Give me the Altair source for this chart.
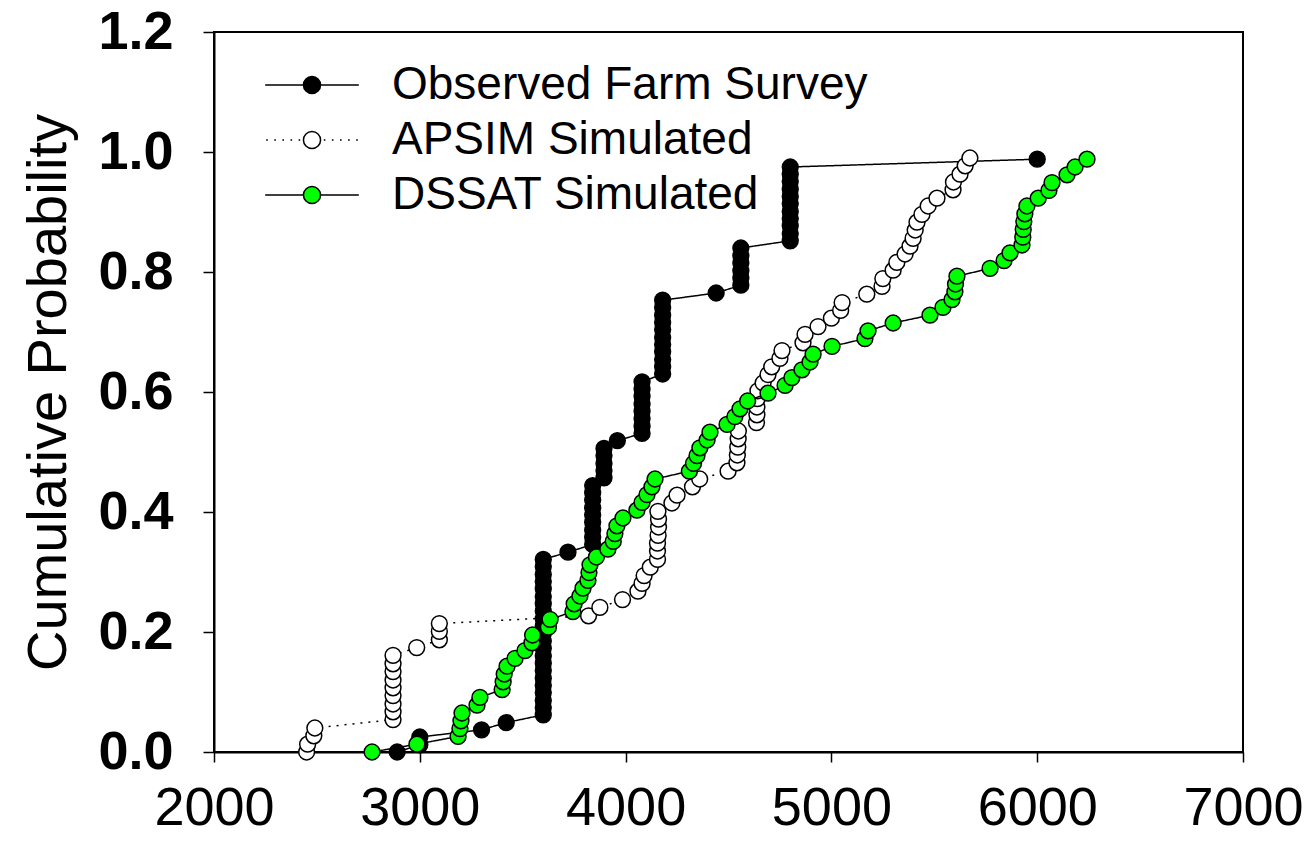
import altair as alt
import pandas as pd

series_names = ["Observed Farm Survey", "APSIM Simulated", "DSSAT Simulated"]
fill_colors = ["black", "white", "#00ff00"]
edge_colors = ["black", "black", "black"]

obs_yield = [2890, 3000, 3000, 3300, 3420,
             3600, 3600, 3600, 3600, 3600, 3600, 3600, 3600, 3600, 3600, 3600,
             3600, 3600, 3600, 3600, 3600, 3600, 3600, 3600, 3600, 3600, 3600,
             3720,
             3840, 3840, 3840, 3840, 3840, 3840, 3840, 3840, 3840,
             3895, 3895, 3895, 3895, 3895,
             3960,
             4080, 4080, 4080, 4080, 4080, 4080, 4080, 4080,
             4180, 4180, 4180, 4180, 4180, 4180, 4180, 4180, 4180, 4180, 4180,
             4440,
             4560, 4560, 4560, 4560, 4560, 4560,
             4800, 4800, 4800, 4800, 4800, 4800, 4800, 4800, 4800, 4800, 4800,
             6000]
obs_prob = [0.000, 0.012, 0.025, 0.037, 0.049, 0.062, 0.074, 0.086, 0.099, 0.111,
            0.123, 0.136, 0.148, 0.160, 0.173, 0.185, 0.198, 0.210, 0.222, 0.235,
            0.247, 0.259, 0.272, 0.284, 0.296, 0.309, 0.321, 0.333, 0.346, 0.358,
            0.370, 0.383, 0.395, 0.407, 0.420, 0.432, 0.444, 0.457, 0.469, 0.481,
            0.494, 0.506, 0.519, 0.531, 0.543, 0.556, 0.568, 0.580, 0.593, 0.605,
            0.617, 0.630, 0.642, 0.654, 0.667, 0.679, 0.691, 0.704, 0.716, 0.728,
            0.741, 0.753, 0.765, 0.778, 0.790, 0.802, 0.815, 0.827, 0.840, 0.852,
            0.864, 0.877, 0.889, 0.901, 0.914, 0.926, 0.938, 0.951, 0.963, 0.975,
            0.988]

apsim_yield = [2450, 2455, 2485, 2490,
               2870, 2870, 2870, 2870, 2870, 2870, 2870, 2870, 2870,
               2985,
               3095, 3095, 3095,
               3820, 3875, 3985, 4060, 4080, 4090, 4120,
               4155, 4155, 4155, 4158, 4160, 4160, 4157,
               4225, 4250, 4325, 4360,
               4498,
               4541, 4543, 4545, 4547, 4548,
               4636, 4638, 4638, 4640, 4643, 4668, 4692, 4710, 4750, 4760,
               4862, 4872, 4935, 5000, 5045, 5052, 5172, 5246, 5250, 5300,
               5318, 5358, 5382, 5397, 5407, 5416, 5440, 5470, 5513, 5591,
               5593, 5625, 5650, 5673]
apsim_prob = [0.000, 0.013, 0.027, 0.040, 0.054, 0.067, 0.080, 0.094, 0.107, 0.120,
              0.134, 0.147, 0.161, 0.174, 0.187, 0.201, 0.214, 0.227, 0.241, 0.254,
              0.268, 0.281, 0.294, 0.308, 0.321, 0.335, 0.348, 0.361, 0.375, 0.388,
              0.401, 0.415, 0.428, 0.442, 0.455, 0.468, 0.482, 0.495, 0.508, 0.522,
              0.535, 0.549, 0.562, 0.575, 0.589, 0.602, 0.615, 0.629, 0.642, 0.656,
              0.669, 0.682, 0.696, 0.709, 0.723, 0.736, 0.749, 0.763, 0.776, 0.789,
              0.803, 0.816, 0.830, 0.843, 0.856, 0.870, 0.883, 0.896, 0.910, 0.923,
              0.937, 0.950, 0.963, 0.977, 0.990]

dssat_yield = [2768, 2986, 3186, 3195, 3200, 3205, 3278, 3292, 3400, 3405,
               3410, 3424, 3463, 3511, 3545, 3548, 3625, 3633, 3744, 3750,
               3778, 3793, 3817, 3822, 3827, 3858, 3914, 3940, 3948, 3958,
               3987, 4055, 4080, 4104, 4128, 4143, 4310, 4330, 4347, 4361,
               4396, 4410, 4493, 4531, 4556, 4593, 4692, 4775, 4808, 4857,
               4896, 4911, 5003, 5163, 5178, 5300, 5479, 5542, 5586, 5600,
               5603, 5610, 5771, 5839, 5868, 5926, 5930, 5932, 5935, 5940,
               5950, 6005, 6057, 6072, 6145, 6184, 6242]
dssat_prob = [0.000, 0.013, 0.026, 0.039, 0.052, 0.065, 0.078, 0.091, 0.104, 0.117,
              0.130, 0.143, 0.156, 0.169, 0.182, 0.195, 0.208, 0.221, 0.234, 0.247,
              0.260, 0.273, 0.286, 0.299, 0.312, 0.325, 0.338, 0.351, 0.364, 0.377,
              0.390, 0.403, 0.416, 0.429, 0.442, 0.455, 0.468, 0.481, 0.494, 0.507,
              0.520, 0.533, 0.546, 0.559, 0.572, 0.585, 0.598, 0.611, 0.624, 0.637,
              0.650, 0.663, 0.676, 0.689, 0.702, 0.715, 0.728, 0.741, 0.754, 0.767,
              0.780, 0.793, 0.806, 0.819, 0.832, 0.845, 0.858, 0.871, 0.884, 0.897,
              0.910, 0.923, 0.936, 0.949, 0.962, 0.975, 0.988]

x_ticks = [2000, 3000, 4000, 5000, 6000, 7000]
y_ticks = [0.0, 0.2, 0.4, 0.6, 0.8, 1.0, 1.2]

frames = []
for name, xs, ps in [(series_names[0], obs_yield, obs_prob),
                     (series_names[1], apsim_yield, apsim_prob),
                     (series_names[2], dssat_yield, dssat_prob)]:
    frames.append(pd.DataFrame({"yield": xs, "prob": ps, "series": name}))
df = pd.concat(frames, ignore_index=True)

FONT = "Liberation Sans"

x_enc = alt.X("yield:Q", scale=alt.Scale(domain=[2000, 7000], nice=False, zero=False),
              axis=alt.Axis(values=x_ticks, title=None, format="d"))
y_enc = alt.Y("prob:Q", scale=alt.Scale(domain=[0, 1.2], nice=False),
              axis=alt.Axis(values=y_ticks, format=".1f", title="Cumulative Probability"))

fill_scale = alt.Scale(domain=series_names, range=fill_colors)
stroke_scale = alt.Scale(domain=series_names, range=edge_colors)

# legend symbols: line with a circle in the middle (solid / dotted)
circ = "M0.95,0A0.95,0.95,0,1,1,-0.95,0A0.95,0.95,0,1,1,0.95,0Z"
solid_sym = "M-5.2,0H-0.95M0.95,0H5.2" + circ
dots = ""
for c in [-5.0, -4.1, -3.2, -2.3, -1.4, 1.4, 2.3, 3.2, 4.1, 5.0]:
    dots += "M%.2f,0H%.2f" % (c - 0.09, c + 0.09)
dotted_sym = dots + circ
shape_scale = alt.Scale(domain=series_names, range=[solid_sym, dotted_sym, solid_sym])

legend_def = alt.Legend(title=None, orient="none", legendX=51, legendY=30)

dashes = {series_names[0]: [1, 0], series_names[1]: [2, 6], series_names[2]: [1, 0]}

layers = []
for name, col in zip(series_names, fill_colors):
    base = alt.Chart(df).transform_filter(alt.datum.series == name)
    line = base.mark_line(color="black", strokeWidth=1.5, strokeDash=dashes[name]).encode(
        x=x_enc, y=y_enc, order=alt.Order("prob:Q"))
    pts = base.mark_point(filled=True, shape="circle", size=250, fill=col, stroke="black",
                          strokeWidth=1.5, opacity=1).encode(x=x_enc, y=y_enc)
    layers += [line, pts]

legend_layer = alt.Chart(df).transform_filter("false").mark_point(
    filled=True, strokeWidth=1.5, opacity=1).encode(
    x=x_enc, y=y_enc,
    fill=alt.Fill("series:N", scale=fill_scale, legend=legend_def),
    shape=alt.Shape("series:N", scale=shape_scale, legend=legend_def),
    stroke=alt.Stroke("series:N", scale=stroke_scale, legend=legend_def),
)
layers.append(legend_layer)

chart = alt.layer(*layers).properties(
    width=1029, height=720,
    autosize=alt.AutoSizeParams(type="none"),
    padding={"left": 206, "top": 24, "right": 60, "bottom": 86},
).configure_view(
    stroke="black", strokeWidth=2
).configure_axis(
    grid=False, domainColor="black", domainWidth=2, tickColor="black",
    tickWidth=1.5, labelColor="black", labelFont=FONT, titleFont=FONT,
    titleColor="black"
).configure_axisX(
    tickSize=10, labelFontSize=54, labelFontWeight="normal", labelPadding=19,
    labelFlush=False
).configure_axisY(
    tickSize=11, labelFontSize=54, labelFontWeight="bold", labelPadding=30,
    titleFontSize=56, titleFontWeight="normal", titlePadding=20, labelFlush=False
).configure_legend(
    labelFont=FONT, labelFontSize=46, labelColor="black",
    symbolStrokeWidth=1.5, symbolSize=324, symbolOffset=24, labelOffset=57,
    rowPadding=9, padding=0, symbolOpacity=1, labelLimit=1000
)

chart.save("out.html", embed_options={"renderer": "svg", "actions": False})
